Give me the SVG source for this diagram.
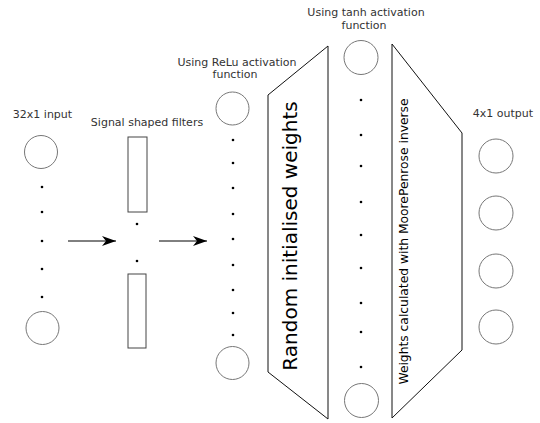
<svg xmlns="http://www.w3.org/2000/svg" width="540" height="423" viewBox="0 0 540 423">
<style>
.lbl{font-family:"DejaVu Sans",Verdana,sans-serif;font-size:11px;fill:#333;text-anchor:middle}
.node{fill:none;stroke:#777;stroke-width:1}
.dot{fill:#000}
.filt{fill:none;stroke:#444;stroke-width:1}
.trap{fill:none;stroke:#111;stroke-width:1}
.big{font-family:"DejaVu Sans",Verdana,sans-serif;fill:#000;text-anchor:middle}
.arr{stroke:#000;stroke-width:1;fill:none;marker-end:url(#ah)}
</style>
<defs>
<marker id="ah" markerUnits="userSpaceOnUse" markerWidth="20" markerHeight="12" refX="15" refY="6" orient="auto" viewBox="0 0 20 12">
<path d="M15,6 L1,1 L5,6 L1,11 Z" fill="#000"/>
</marker>
</defs>
<rect width="540" height="423" fill="#fff"/>

<g id="input">
<text class="lbl" x="42.5" y="118">32x1 input</text>
<circle class="node" cx="41" cy="152" r="16.5"/>
<circle class="dot" cx="42" cy="187" r="1.3"/>
<circle class="dot" cx="42" cy="212" r="1.3"/>
<circle class="dot" cx="42" cy="241" r="1.3"/>
<circle class="dot" cx="42" cy="269" r="1.3"/>
<circle class="dot" cx="42" cy="297" r="1.3"/>
<circle class="node" cx="42.5" cy="328" r="16.5"/>
</g>

<g id="filters">
<text class="lbl" x="147" y="126">Signal shaped filters</text>
<rect class="filt" x="128" y="137" width="19" height="75"/>
<circle class="dot" cx="137" cy="224" r="1.3"/>
<circle class="dot" cx="137" cy="261" r="1.3"/>
<rect class="filt" x="128" y="274" width="18" height="74"/>
</g>

<g id="relu">
<text class="lbl" x="237" y="66">Using ReLu activation</text>
<text class="lbl" x="235" y="78">function</text>
<circle class="node" cx="232.5" cy="108.5" r="16.5"/>
<circle class="dot" cx="233" cy="140" r="1.3"/>
<circle class="dot" cx="233" cy="163" r="1.3"/>
<circle class="dot" cx="233" cy="188" r="1.3"/>
<circle class="dot" cx="233" cy="214" r="1.3"/>
<circle class="dot" cx="233" cy="239" r="1.3"/>
<circle class="dot" cx="233" cy="265" r="1.3"/>
<circle class="dot" cx="233" cy="290" r="1.3"/>
<circle class="dot" cx="233" cy="313" r="1.3"/>
<circle class="dot" cx="233" cy="335" r="1.3"/>
<circle class="node" cx="232.5" cy="363" r="16.5"/>
</g>

<g id="random-weights">
<polygon class="trap" points="268,95 328,46 328,419 268,372"/>
<text class="big" font-size="20" transform="translate(297,236) rotate(-90)">Random initialised weights</text>
</g>

<g id="tanh">
<text class="lbl" x="366" y="16">Using tanh activation</text>
<text class="lbl" x="364" y="29">function</text>
<circle class="node" cx="361" cy="57.5" r="17"/>
<circle class="dot" cx="361" cy="100" r="1.3"/>
<circle class="dot" cx="361" cy="135" r="1.3"/>
<circle class="dot" cx="361" cy="166" r="1.3"/>
<circle class="dot" cx="361" cy="202" r="1.3"/>
<circle class="dot" cx="361" cy="235" r="1.3"/>
<circle class="dot" cx="361" cy="268" r="1.3"/>
<circle class="dot" cx="361" cy="303" r="1.3"/>
<circle class="dot" cx="361" cy="332" r="1.3"/>
<circle class="dot" cx="361" cy="367" r="1.3"/>
<circle class="node" cx="361.5" cy="400.5" r="17"/>
</g>

<g id="moore-penrose">
<polygon class="trap" points="392,44 462,133 462,350 392,418"/>
<text class="big" font-size="12.3" transform="translate(408,241.5) rotate(-90)">Weights calculated with MoorePenrose inverse</text>
</g>

<g id="output">
<text class="lbl" x="503" y="117">4x1 output</text>
<circle class="node" cx="496" cy="156" r="17"/>
<circle class="node" cx="496" cy="213" r="17"/>
<circle class="node" cx="496" cy="271" r="17"/>
<circle class="node" cx="496" cy="327" r="17"/>
</g>

<g id="connectors">
<line class="arr" x1="68" y1="241" x2="116" y2="241"/>
<line class="arr" x1="159" y1="241" x2="207" y2="241"/>
</g>
</svg>
